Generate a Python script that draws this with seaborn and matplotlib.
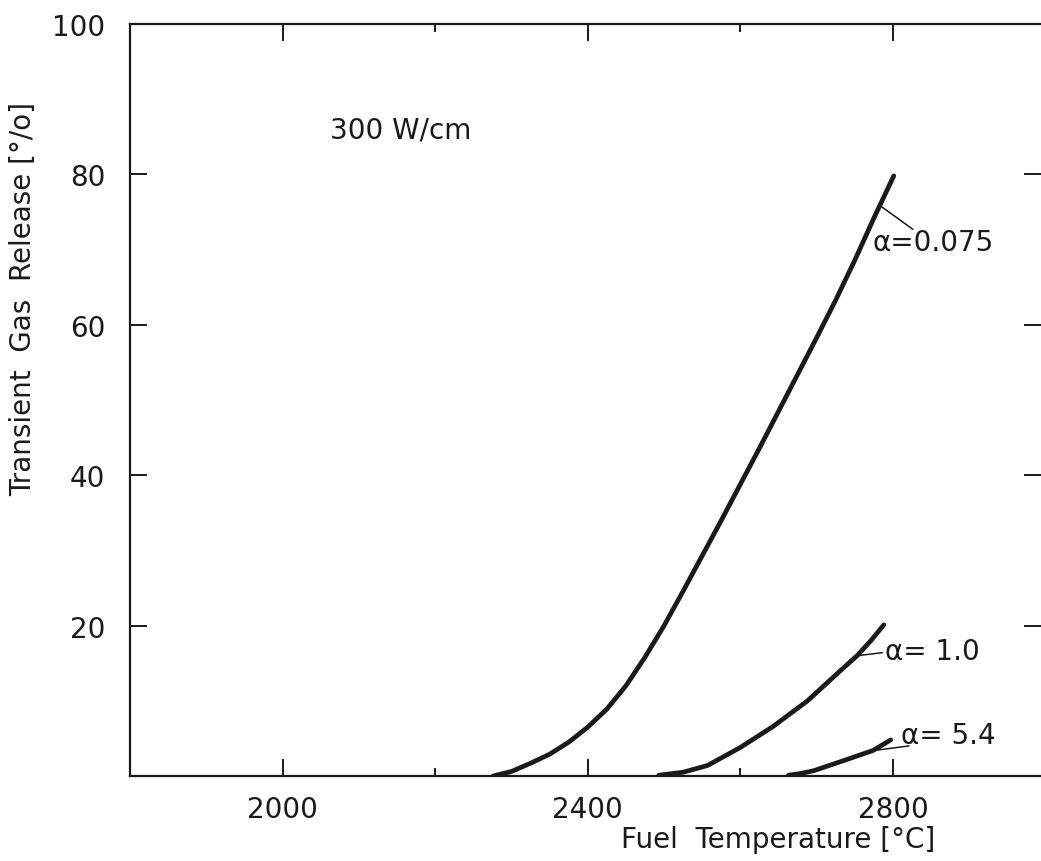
import matplotlib
matplotlib.use("Agg")
import matplotlib.pyplot as plt
import seaborn as sns
from matplotlib.ticker import FixedLocator

# ---- data ----
temp_a0075 = [2276, 2300, 2325, 2350, 2375, 2400, 2425, 2450, 2475, 2500, 2525, 2550,
              2575, 2600, 2625, 2650, 2675, 2700, 2725, 2750, 2775, 2801]
rel_a0075 = [0.0, 0.6, 1.7, 2.9, 4.5, 6.5, 8.9, 12.0, 15.8, 20.0, 24.6, 29.3,
             34.0, 38.8, 43.6, 48.5, 53.4, 58.3, 63.3, 68.6, 74.2, 79.8]

temp_a10 = [2493, 2525, 2557, 2600, 2643, 2688, 2731, 2753, 2771, 2788]
rel_a10 = [0.1, 0.5, 1.4, 3.8, 6.6, 10.0, 14.0, 16.0, 18.0, 20.1]

temp_a54 = [2663, 2680, 2696, 2731, 2774, 2797]
rel_a54 = [0.1, 0.35, 0.7, 1.9, 3.4, 4.8]

curve_labels = ["α=0.075", "α= 1.0", "α= 5.4"]
x_major = [2000, 2400, 2800]
x_minor = [2200, 2600]
y_major = [20, 40, 60, 80, 100]

sns.set_theme(style="white")
plt.rcParams['font.family'] = ['DejaVu Sans']

ink = "#1a1a1a"
fig = plt.figure(figsize=(10.41, 8.62), dpi=100)
ax = fig.add_axes([130/1041, 85/862, 911/1041, 752/862])

for tx, ry in [(temp_a0075, rel_a0075), (temp_a10, rel_a10), (temp_a54, rel_a54)]:
    sns.lineplot(x=tx, y=ry, ax=ax, sort=False, estimator=None, color=ink,
                 lw=3.4, solid_capstyle="round", solid_joinstyle="round")

ax.set_xlim(1800, 2994)
ax.set_ylim(0, 100)

ax.xaxis.set_major_locator(FixedLocator(x_major))
ax.xaxis.set_minor_locator(FixedLocator(x_minor))
ax.yaxis.set_major_locator(FixedLocator(y_major))
ax.set_xticklabels([str(v) for v in x_major])
ax.set_yticklabels([str(v) for v in y_major])

ax.tick_params(axis="both", which="major", direction="in", length=12, width=1.4,
               color=ink, labelsize=20, labelcolor=ink,
               top=True, right=True, bottom=True, left=True)
ax.tick_params(axis="x", which="minor", direction="in", length=6, width=1.4,
               color=ink, top=True, bottom=True)
ax.tick_params(axis="x", which="major", pad=14)
ax.tick_params(axis="y", which="major", pad=18)

for s in ["left", "bottom", "top"]:
    ax.spines[s].set_visible(True)
    ax.spines[s].set_color(ink)
    ax.spines[s].set_linewidth(1.6)
ax.spines["right"].set_visible(False)

ax.set_xlabel("Fuel  Temperature [°C]", fontsize=20, color=ink, va="center")
ax.xaxis.set_label_coords(0.711, -0.084)
ax.set_ylabel("Transient  Gas  Release [°/o]", fontsize=20, color=ink, va="center")
ax.yaxis.set_label_coords(-0.117, 0.636)

ax.text(2062, 86, "300 W/cm", fontsize=20, color=ink, va="center", ha="left")

# curve labels with leader lines
ax.text(2773, 71.0, curve_labels[0], fontsize=20, color=ink, va="center", ha="left")
ax.plot([2781, 2826], [76.0, 72.7], color=ink, lw=1.1)
ax.text(2790, 16.6, curve_labels[1], fontsize=20, color=ink, va="center", ha="left")
ax.plot([2753, 2786], [16.0, 16.4], color=ink, lw=1.1)
ax.text(2810, 5.5, curve_labels[2], fontsize=20, color=ink, va="center", ha="left")
ax.plot([2768, 2821], [3.3, 4.0], color=ink, lw=1.1)

fig.savefig("out.png", dpi=100)
